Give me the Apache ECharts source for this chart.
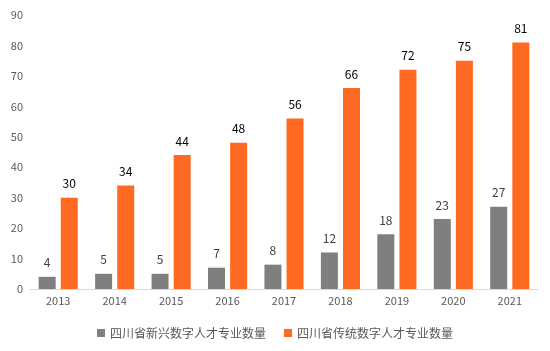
<!DOCTYPE html>
<html><head><meta charset="utf-8">
<script src="https://cdn.jsdelivr.net/npm/echarts@6/dist/echarts.min.js"></script>
<style>html,body{margin:0;padding:0;background:#fff}#c{width:550px;height:351px}</style>
</head><body><div id="c"></div>
<script>
const categories = ['2013','2014','2015','2016','2017','2018','2019','2020','2021'];
const emergingValues = [4,5,5,7,8,12,18,23,27];
const traditionalValues = [30,34,44,48,56,66,72,75,81];
const seriesNames = ['四川省新兴数字人才专业数量','四川省传统数字人才专业数量'];
const yTicks = [0,10,20,30,40,50,60,70,80,90];

const font = '"Microsoft YaHei","Noto Sans CJK SC","Noto Sans",sans-serif';
const chart = echarts.init(document.getElementById('c'));
chart.setOption({
  animation:false,
  grid:{left:30,right:12,top:15,bottom:62},
  legend:{
    bottom:7, left:'center', itemWidth:8, itemHeight:8, itemGap:18, icon:'rect',
    textStyle:{color:'#595959',fontSize:12,fontFamily:font},
    data:seriesNames
  },
  xAxis:{
    type:'category', data:categories,
    axisLine:{lineStyle:{color:'#d9d9d9'}}, axisTick:{show:false},
    axisLabel:{color:'#595959',fontSize:11,fontFamily:font,margin:6}
  },
  yAxis:{
    type:'value', min:yTicks[0], max:yTicks[yTicks.length-1], interval:10,
    splitLine:{show:false}, axisLine:{show:false}, axisTick:{show:false},
    axisLabel:{color:'#595959',fontSize:11,fontFamily:font,margin:7}
  },
  series:[
    {name:seriesNames[0],type:'bar',data:emergingValues,barWidth:17,barGap:'30%',
     itemStyle:{color:'#7f7f7f'},
     label:{show:true,position:'top',distance:8,color:'#404040',fontSize:12,fontFamily:font}},
    {name:seriesNames[1],type:'bar',data:traditionalValues,barWidth:17,
     itemStyle:{color:'#ff6a23'},
     label:{show:true,position:'top',distance:8,color:'#000',fontSize:12,fontFamily:font}}
  ]
});
</script></body></html>
